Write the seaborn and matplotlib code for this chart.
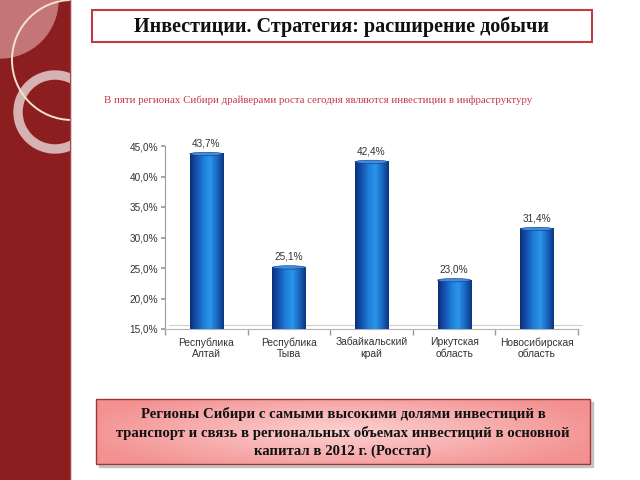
import numpy as np
import pandas as pd
import matplotlib
matplotlib.use("Agg")
import matplotlib.pyplot as plt
import seaborn as sns
from matplotlib.patches import Rectangle, Circle, Ellipse, Wedge
from matplotlib.colors import LinearSegmentedColormap

# ---- data ----
regions = ["Республика\nАлтай", "Республика\nТыва", "Забайкальский\nкрай",
           "Иркутская\nобласть", "Новосибирская\nобласть"]
shares = [43.7, 25.1, 42.4, 23.0, 31.4]
y_ticks = [15, 20, 25, 30, 35, 40, 45]

title = "Инвестиции. Стратегия: расширение добычи"
subtitle = "В пяти регионах Сибири драйверами роста сегодня являются инвестиции в инфраструктуру"
note_lines = ["Регионы Сибири с самыми высокими долями инвестиций в",
              "транспорт и связь в региональных объемах инвестиций в основной",
              "капитал в 2012 г. (Росстат)"]

df = pd.DataFrame({"region": regions, "share": shares})

sns.set_theme(style="white")
plt.rcParams["font.family"] = ["Liberation Sans", "DejaVu Sans"]

W, H = 640, 480
fig = plt.figure(figsize=(6.4, 4.8), dpi=100)

# ---- background / decoration axes in pixel coords ----
bg = fig.add_axes([0, 0, 1, 1], zorder=0)
bg.set_xlim(0, W)
bg.set_ylim(H, 0)
bg.axis("off")

strip_red = "#8c1e20"
clip_rect = Rectangle((0, 0), 70, H, transform=bg.transData)
bg.add_patch(Rectangle((0, 0), 70, H, color=strip_red, zorder=1))
lens = Circle((0, 0), 58, color="#c47676", zorder=2)
bg.add_patch(lens)
lens.set_clip_path(clip_rect)
ring = Wedge((55, 112), 41, 0, 360, width=8, color="#d6b3b3", zorder=3)
bg.add_patch(ring)
ring.set_clip_path(clip_rect)
arc = Circle((72, 60), 60, fill=False, ec="#f3e3cf", lw=1.4, zorder=4)
bg.add_patch(arc)
arc.set_clip_path(clip_rect)
bg.plot([70, 70], [0, H], color="#a84848", lw=0.8, zorder=4)

# title box
bg.add_patch(Rectangle((92, 10), 500, 32, fill=True, fc="white", ec="#c23a44", lw=1.5, zorder=2))
bg.text(341, 27, title, ha="center", va="center", fontsize=14.5, fontweight="bold",
        family=["Liberation Serif", "DejaVu Serif"], color="#111111", zorder=5)

# subtitle
bg.text(104, 100, subtitle, ha="left", va="center", fontsize=7.8,
        family=["Liberation Serif", "DejaVu Serif"], color="#c8364e", zorder=5)

# bottom note box with shadow and gradient
bx0, by0, bw, bh = 96, 399, 494, 65
bg.add_patch(Rectangle((bx0 + 3, by0 + 3), bw, bh, color="#9a9a9a", alpha=0.5, zorder=1))
xx = np.linspace(-1, 1, 200)
yy = np.linspace(-1, 1, 60)
X, Y = np.meshgrid(xx, yy)
R = np.clip(np.sqrt((X * 0.9) ** 2 + (Y * 0.7) ** 2), 0, 1)
pink = LinearSegmentedColormap.from_list("pink", ["#fcd0d0", "#f39090"])
bg.imshow(R, extent=[bx0, bx0 + bw, by0 + bh, by0], cmap=pink, aspect="auto", zorder=2)
bg.add_patch(Rectangle((bx0, by0), bw, bh, fill=False, ec="#a23434", lw=1.0, zorder=3))
for i, line in enumerate(note_lines):
    bg.text(bx0 + bw / 2, by0 + 15 + i * 18.5, line, ha="center", va="center",
            fontsize=10.6, fontweight="bold", family=["Liberation Serif", "DejaVu Serif"],
            color="#111111", zorder=5)
bg.set_xlim(0, W)
bg.set_ylim(H, 0)

# ---- chart ----
ax = fig.add_axes([165 / W, 1 - 329 / H, 413 / W, 183 / H], zorder=2)
ax.patch.set_alpha(0)
sns.barplot(data=df, x="region", y="share", ax=ax, width=0.4, color="#1c6cc4",
            saturation=1, zorder=2)

bar_cmap = LinearSegmentedColormap.from_list(
    "bar", ["#0b2f7a", "#1553b0", "#1f7fd8", "#2b95ea", "#1a68c2", "#0c3682"])
grad = np.linspace(0, 1, 100).reshape(1, -1)
for p, v in zip(ax.patches, shares):
    x, w = p.get_x(), p.get_width()
    p.set_visible(False)
    ax.imshow(grad, extent=[x, x + w, 15, v], cmap=bar_cmap, aspect="auto", zorder=3)
    ax.add_patch(Ellipse((x + w / 2, v), w, 0.55, color="#3f8fdc", ec="#0c3682", lw=0.4, zorder=4))
    ax.text(x + w / 2, v + 0.9, f"{v:.1f}%".replace(".", ","), ha="center", va="bottom",
            fontsize=7.2, color="#333333", zorder=5)

ax.set_xlim(-0.5, 4.5)
ax.set_ylim(15, 45)
ax.set_yticks(y_ticks)
ax.set_yticklabels([f"{t:.1f}%".replace(".", ",") for t in y_ticks], fontsize=7.2, color="#333333")
ax.tick_params(axis="x", labelsize=7.4, labelcolor="#333333", length=0, pad=6)
ax.set_xticks(range(len(regions)))
ax.set_xticklabels(regions, linespacing=1.15)
ax.set_xticks(np.arange(-0.5, 5.0, 1.0), minor=True)
ax.tick_params(axis="x", which="minor", length=4, color="#9a9a9a", direction="out", bottom=True)
ax.tick_params(axis="y", length=3, color="#9a9a9a", direction="out", left=True, pad=2)
ax.set_xlabel("")
ax.set_ylabel("")
ax.grid(False)
for s in ["top", "right"]:
    ax.spines[s].set_visible(False)
ax.spines["left"].set_color("#9a9a9a")
ax.spines["bottom"].set_color("#b5b5b5")
ax.spines["left"].set_linewidth(0.8)
ax.spines["bottom"].set_linewidth(0.8)
# light 3D floor edge
ax.plot([-0.45, 4.55], [15.6, 15.6], color="#d0d0d0", lw=0.8, zorder=1, clip_on=False)

fig.savefig("out.png", dpi=100)
